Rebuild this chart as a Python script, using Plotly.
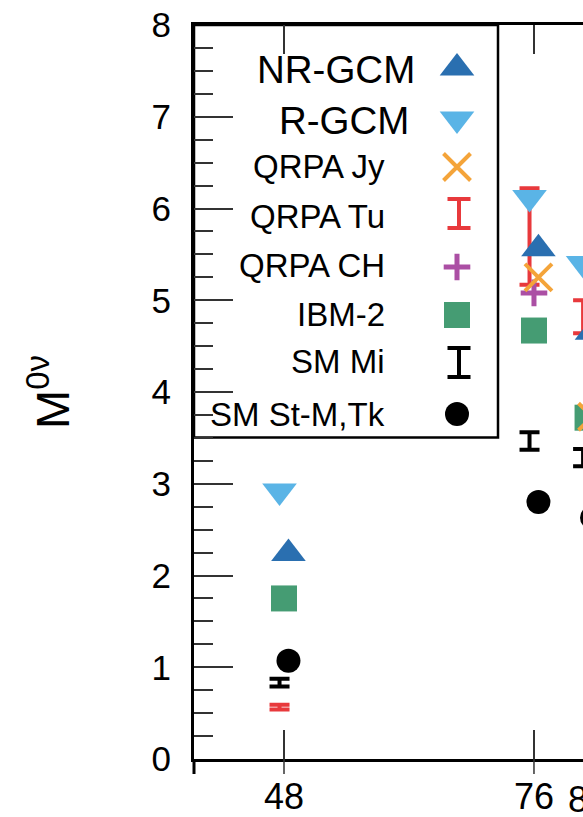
import plotly.graph_objects as go

# ---------------- data ----------------
nuclei = [48, 76, 82]                      # mass number A
tick_vals = [48, 76, 82]
tick_text = ["48", "76", "82"]

nr_gcm_A = [48, 76, 82]
nr_gcm = [2.24, 5.56, 4.65]

r_gcm_A = [48, 76, 82]
r_gcm = [2.92, 6.12, 5.40]

qrpa_jy_A = [76, 82]
qrpa_jy = [5.25, 3.73]

qrpa_tu_A = [48, 76, 82]
qrpa_tu_lo = [0.54, 5.17, 4.64]
qrpa_tu_hi = [0.59, 6.22, 5.00]

qrpa_ch_A = [76]
qrpa_ch = [5.08]

ibm2_A = [48, 76, 82]
ibm2 = [1.75, 4.67, 3.72]

sm_mi_A = [48, 76, 82]
sm_mi_lo = [0.79, 3.37, 3.19]
sm_mi_hi = [0.875, 3.56, 3.38]

sm_st_A = [48, 76, 82]
sm_st = [1.07, 2.80, 2.63]

series_names = ["NR-GCM", "R-GCM", "QRPA Jy", "QRPA Tu", "QRPA CH",
                "IBM-2", "SM Mi", "SM St-M,Tk"]

# ---------------- style ----------------
FONT = "Liberation Sans, Arial, Helvetica, sans-serif"
C_NR = "#2a6fb0"
C_R = "#5ab4e6"
C_JY = "#f4a43a"
C_TU = "#e8393c"
C_CH = "#ab4fa4"
C_IBM = "#459c73"
C_BLK = "#000000"

X_RANGE = [37.92, 81.49]
Y_RANGE = [0, 8]

W, H = 583, 817
ML, MR, MT, MB = 194, 0, 25, 58
PLOT_H = H - MT - MB
TICKC = "#333333"

fig = go.Figure()


def add_markers(xs, ys, off, symbol, color, size, lw=0):
    mk = dict(symbol=symbol, size=size, color=color)
    if lw:
        mk["line"] = dict(color=color, width=lw)
    else:
        mk["line"] = dict(width=0)
    fig.add_trace(go.Scatter(x=[a + off for a in xs], y=ys, mode="markers",
                             marker=mk, showlegend=False, hoverinfo="skip"))


def add_range(xs, lo, hi, off, color, width=10, thick=4):
    mid = [(a + b) / 2 for a, b in zip(lo, hi)]
    fig.add_trace(go.Scatter(
        x=[a + off for a in xs], y=mid, mode="markers",
        marker=dict(size=1, color="rgba(0,0,0,0)"),
        error_y=dict(type="data", symmetric=False,
                     array=[h - m for h, m in zip(hi, mid)],
                     arrayminus=[m - l for m, l in zip(mid, lo)],
                     color=color, thickness=thick, width=width),
        showlegend=False, hoverinfo="skip"))


# data marks (small horizontal offsets as in the original figure)
add_range(qrpa_tu_A, qrpa_tu_lo, qrpa_tu_hi, -0.5, C_TU)
add_range(sm_mi_A, sm_mi_lo, sm_mi_hi, -0.5, C_BLK)
add_markers(ibm2_A, ibm2, 0.0, "square", C_IBM, 26)
add_markers(qrpa_ch_A, qrpa_ch, 0.0, "cross-thin", C_CH, 19, lw=5)
add_markers(nr_gcm_A, nr_gcm, 0.5, "triangle-up", C_NR, 30)
add_markers(qrpa_jy_A, qrpa_jy, 0.5, "x-thin", C_JY, 27, lw=4)
add_markers(r_gcm_A, r_gcm, -0.5, "triangle-down", C_R, 30)
add_markers(sm_st_A, sm_st, 0.5, "circle", C_BLK, 24)

# ---------------- hand-made legend (pixel overlay axes x2/y2) ----------------
LEG_BOX = dict(x0=ML, x1=498, y0=MT, y1=437.5)
LEG_GLYPH_X = 457
LEG_GLYPH_Y = [68, 119, 167, 213.5, 267, 315, 362.5, 414]
LEG_TEXT_Y = [69, 120, 166, 216, 265, 314, 361, 414]
LEG_TEXT_X = [417, 411, 387, 387, 387, 387, 387, 387]
LEG_TEXT_SIZE = [38.5, 38.5, 33, 33, 33, 33, 33, 33]

leg_style = [
    ("m", dict(symbol="triangle-up", size=30, color=C_NR)),
    ("m", dict(symbol="triangle-down", size=30, color=C_R)),
    ("m", dict(symbol="x-thin", size=27, color=C_JY, line=dict(color=C_JY, width=4))),
    ("e", C_TU),
    ("m", dict(symbol="cross-thin", size=19, color=C_CH, line=dict(color=C_CH, width=5))),
    ("m", dict(symbol="square", size=26, color=C_IBM)),
    ("e", C_BLK),
    ("m", dict(symbol="circle", size=24, color=C_BLK)),
]
for i, (kind, st) in enumerate(leg_style):
    gy = LEG_GLYPH_Y[i]
    if kind == "m":
        fig.add_trace(go.Scatter(x=[LEG_GLYPH_X], y=[gy], mode="markers", marker=st,
                                 xaxis="x2", yaxis="y2", showlegend=False,
                                 hoverinfo="skip"))
    else:
        fig.add_trace(go.Scatter(x=[LEG_GLYPH_X + 2], y=[gy], mode="markers",
                                 marker=dict(size=1, color="rgba(0,0,0,0)"),
                                 error_y=dict(type="constant", value=14.5, color=st,
                                              thickness=4, width=11.5),
                                 xaxis="x2", yaxis="y2", showlegend=False,
                                 hoverinfo="skip"))
    fig.add_annotation(x=LEG_TEXT_X[i], y=LEG_TEXT_Y[i], xref="x2", yref="y2",
                       text=series_names[i], showarrow=False, xanchor="right",
                       yanchor="middle",
                       font=dict(family=FONT, size=LEG_TEXT_SIZE[i], color="black"))

fig.add_shape(type="rect", xref="x2", yref="y2", layer="below",
              line=dict(color="black", width=2.5), fillcolor="rgba(0,0,0,0)",
              **LEG_BOX)

# outer half of the x ticks (ticks cross the bottom axis line in the original)
OUT_TICK = 15 / PLOT_H
for v in tick_vals:
    fig.add_shape(type="line", xref="x", yref="paper", x0=v, x1=v, y0=-OUT_TICK, y1=0,
                  line=dict(color=TICKC, width=1.5), layer="above")
# y axis line continues a little below the x axis
fig.add_shape(type="line", xref="paper", yref="paper", x0=0, x1=0, y0=-OUT_TICK, y1=0,
              line=dict(color="black", width=3), layer="above")

# tick labels that fall just past the right edge (partially visible, like the crop)
for v, t in zip(tick_vals, tick_text):
    if v > X_RANGE[1]:
        fig.add_annotation(x=(v - X_RANGE[0]) / (X_RANGE[1] - X_RANGE[0]), xref="paper",
                           y=-0.0545, yref="paper", text=t, showarrow=False,
                           xanchor="center", yanchor="middle",
                           font=dict(family=FONT, size=36, color="black"))

fig.update_layout(
    width=W, height=H,
    margin=dict(l=ML, r=MR, t=MT, b=MB, pad=0, autoexpand=False),
    paper_bgcolor="white", plot_bgcolor="white",
    font=dict(family=FONT, color="black"),
    showlegend=False,
    xaxis=dict(range=X_RANGE, tickmode="array", tickvals=tick_vals, ticktext=tick_text,
               ticks="inside", ticklen=29, tickwidth=1.5, tickcolor=TICKC,
               showline=True, linewidth=3, linecolor="black", mirror="ticks",
               showgrid=False, zeroline=False, automargin=False,
               tickfont=dict(family=FONT, size=36, color="black"),
               ticklabelstandoff=4),
    yaxis=dict(range=Y_RANGE, tickmode="linear", tick0=0, dtick=1,
               ticks="inside", ticklen=39, tickwidth=1.5, tickcolor=TICKC,
               minor=dict(ticks="inside", ticklen=19, tickwidth=1.5, tickcolor=TICKC,
                          dtick=0.25, tick0=0, showgrid=False),
               showline=True, linewidth=3, linecolor="black", mirror=False,
               showgrid=False, zeroline=False, automargin=False,
               tickfont=dict(family=FONT, size=35, color="black"),
               ticklabelstandoff=13,
               title=dict(text="M<sup>0ν</sup>", standoff=68,
                          font=dict(family=FONT, size=47, color="black"))),
    xaxis2=dict(range=[ML, W - MR], overlaying="x", anchor="y2", visible=False,
                fixedrange=True, automargin=False),
    yaxis2=dict(range=[H - MB, MT], overlaying="y", anchor="x2", visible=False,
                fixedrange=True, automargin=False),
)

fig.write_html("out.html")
